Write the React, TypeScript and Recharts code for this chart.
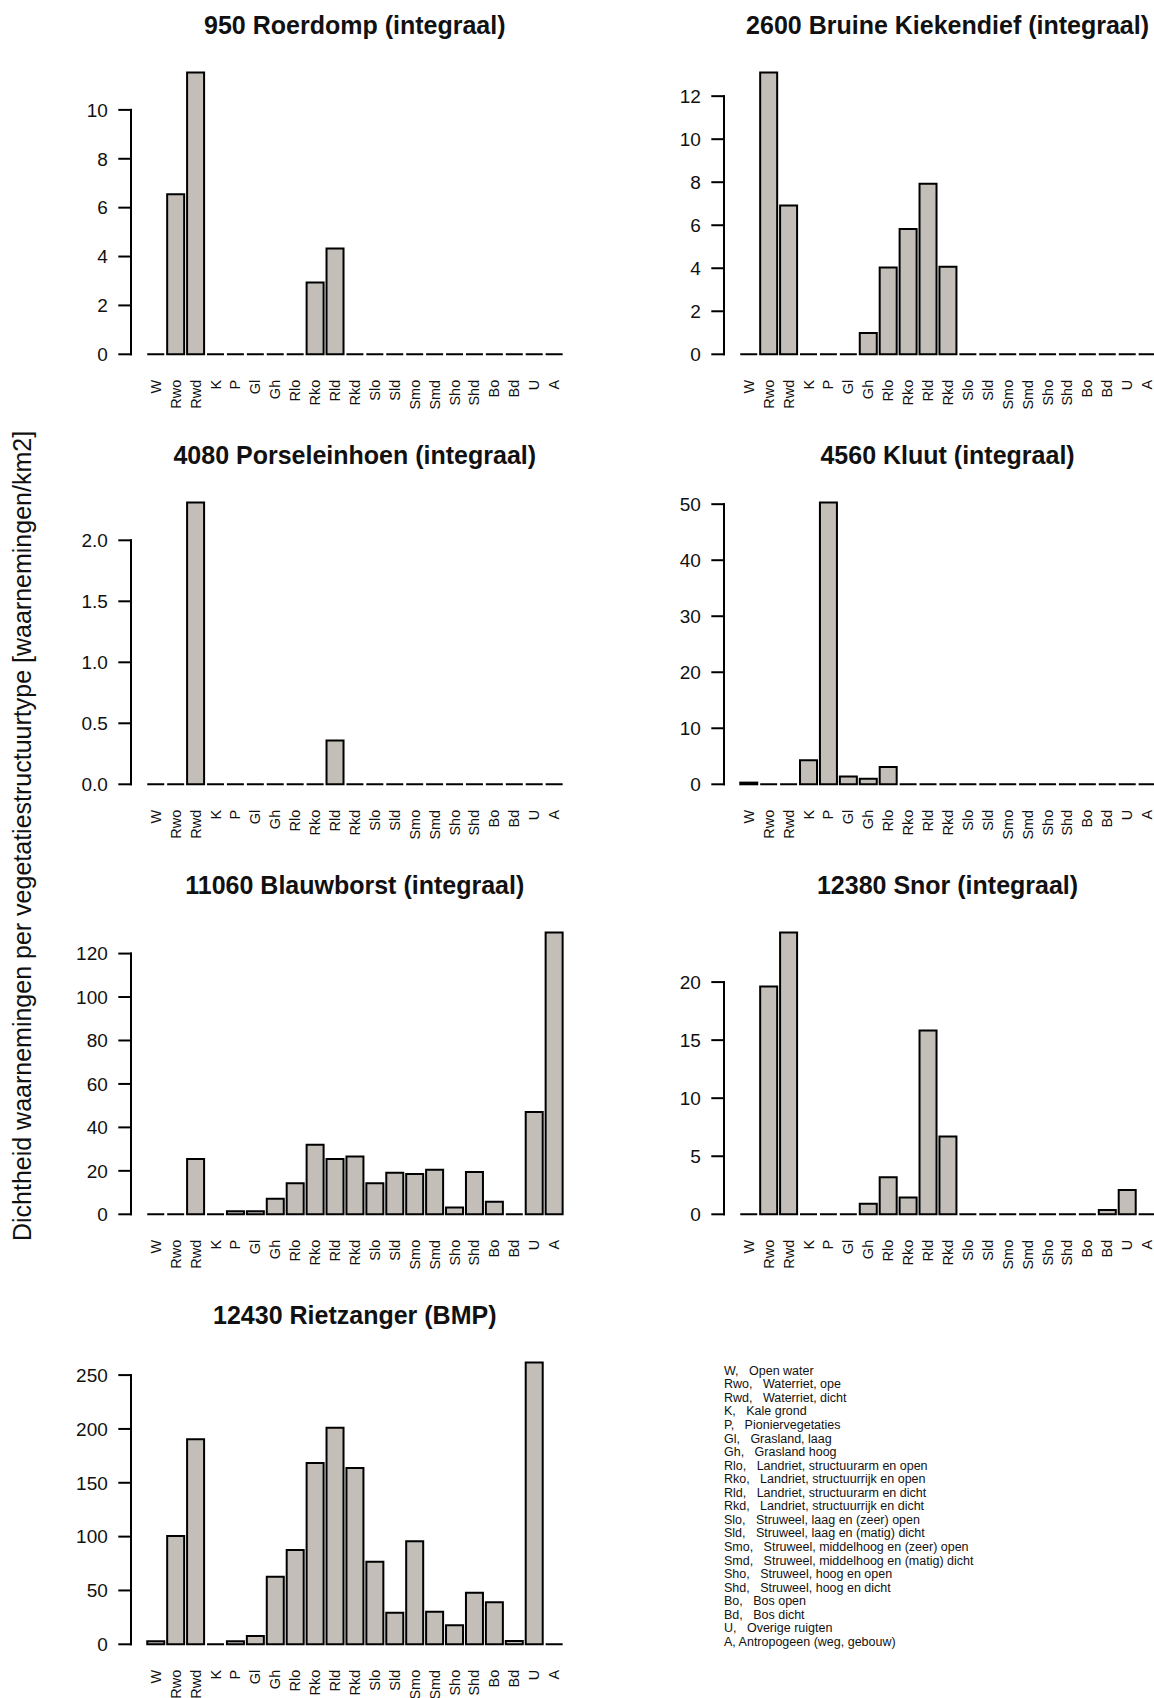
import React from 'react';
import { BarChart, Bar, XAxis, YAxis } from 'recharts';

// vegetation structure types (x categories)
const categories = ['W', 'Rwo', 'Rwd', 'K', 'P', 'Gl', 'Gh', 'Rlo', 'Rko', 'Rld', 'Rkd', 'Slo', 'Sld', 'Smo', 'Smd', 'Sho', 'Shd', 'Bo', 'Bd', 'U', 'A'];

// density per structure type, one array per species
const roerdomp = [0, 6.55, 11.53, 0, 0, 0, 0, 0, 2.94, 4.33, 0, 0, 0, 0, 0, 0, 0, 0, 0, 0, 0];
const bruineKiekendief = [0, 13.1, 6.92, 0, 0, 0, 0.99, 4.04, 5.83, 7.93, 4.07, 0, 0, 0, 0, 0, 0, 0, 0, 0, 0];
const porseleinhoen = [0, 0, 2.31, 0, 0, 0, 0, 0, 0, 0.36, 0, 0, 0, 0, 0, 0, 0, 0, 0, 0, 0];
const kluut = [0.3, 0, 0, 4.3, 50.3, 1.4, 1.0, 3.1, 0, 0, 0, 0, 0, 0, 0, 0, 0, 0, 0, 0, 0];
const blauwborst = [0, 0, 25.5, 0, 1.4, 1.4, 7.2, 14.3, 32, 25.4, 26.6, 14.3, 19.1, 18.6, 20.5, 3.1, 19.5, 5.8, 0, 47.1, 129.7];
const snor = [0, 19.63, 24.27, 0, 0, 0, 0.9, 3.2, 1.45, 15.83, 6.7, 0, 0, 0, 0, 0, 0, 0, 0.37, 2.1, 0];
const rietzanger = [2.8, 100.6, 190.4, 0, 2.8, 7.8, 62.8, 87.6, 168.3, 201.2, 163.7, 76.7, 29.2, 95.7, 30.2, 17.7, 47.9, 39.1, 3.1, 261.7, 0];

// y axis ticks
const ticksRoerdomp = [0, 2, 4, 6, 8, 10];
const ticksKiekendief = [0, 2, 4, 6, 8, 10, 12];
const ticksPorseleinhoen = [0, 0.5, 1, 1.5, 2];
const ticksKluut = [0, 10, 20, 30, 40, 50];
const ticksBlauwborst = [0, 20, 40, 60, 80, 100, 120];
const ticksSnor = [0, 5, 10, 15, 20];
const ticksRietzanger = [0, 50, 100, 150, 200, 250];

const legendLines = [
  'W,   Open water',
  'Rwo,   Waterriet, ope',
  'Rwd,   Waterriet, dicht',
  'K,   Kale grond',
  'P,   Pioniervegetaties',
  'Gl,   Grasland, laag',
  'Gh,   Grasland hoog',
  'Rlo,   Landriet, structuurarm en open',
  'Rko,   Landriet, structuurrijk en open',
  'Rld,   Landriet, structuurarm en dicht',
  'Rkd,   Landriet, structuurrijk en dicht',
  'Slo,   Struweel, laag en (zeer) open',
  'Sld,   Struweel, laag en (matig) dicht',
  'Smo,   Struweel, middelhoog en (zeer) open',
  'Smd,   Struweel, middelhoog en (matig) dicht',
  'Sho,   Struweel, hoog en open',
  'Shd,   Struweel, hoog en dicht',
  'Bo,   Bos open',
  'Bd,   Bos dicht',
  'U,   Overige ruigten',
  'A, Antropogeen (weg, gebouw)',
];

const FONT = '"Liberation Sans", Arial, Helvetica, sans-serif';
const BAR_FILL = '#c3beb7';

const PLOT_LEFT = 145.6;
const PLOT_W = 418.3;
const PLOT_TOP = 72.5;
const PLOT_H = 281.8;
const X_AXIS_H = 70;
const CHART_W = PLOT_LEFT + PLOT_W;
const CHART_H = PLOT_TOP + PLOT_H + X_AXIS_H;
const COL_STEP = 592.8;
const ROW_STEP = 430.1;

const AXIS_GAP = 14.6;
const TICK_LEN = 12.7;

const BarShape = (p: any) => {
  const { x, y, width, height } = p;
  const h = Math.max(height || 0, 0);
  return <path d={`M${x},${y}h${width}v${h}h${-width}Z`} fill={BAR_FILL} stroke="#000" strokeWidth={2} />;
};

const XTick = (props: any) => {
  const { x, y, payload } = props;
  const ty = y + 25.5;
  return (
    <text x={x} y={ty} transform={`rotate(-90 ${x} ${ty})`} textAnchor="end" dy="0.36em" fontSize={14.5} fontFamily={FONT} fill="#111">
      {payload.value}
    </text>
  );
};

function makeYTick(ticks: number[], decimals: number) {
  const top = ticks[ticks.length - 1];
  return (props: any) => {
    const { x, y, payload } = props;
    const ax = x - AXIS_GAP;
    return (
      <g>
        <line x1={ax - TICK_LEN} x2={ax + 1} y1={y} y2={y} stroke="#000" strokeWidth={2} />
        {payload.value === top && <line x1={ax} x2={ax} y1={y - 1} y2={PLOT_TOP + PLOT_H + 1} stroke="#000" strokeWidth={2} />}
        <text x={ax - TICK_LEN - 10.5} y={y} textAnchor="end" dy="0.36em" fontSize={19} fontFamily={FONT} fill="#111">
          {payload.value.toFixed(decimals)}
        </text>
      </g>
    );
  };
}

function Panel({ title, values, ticks, decimals, col, row }: { title: string; values: number[]; ticks: number[]; decimals: number; col: number; row: number }) {
  const data = categories.map((c, i) => ({ cat: c, value: values[i] }));
  const max = Math.max(...values);
  const left = col * COL_STEP;
  const top = row * ROW_STEP;
  return (
    <div style={{ position: 'absolute', left, top, width: CHART_W, height: CHART_H }}>
      <div
        style={{
          position: 'absolute',
          left: PLOT_LEFT + PLOT_W / 2,
          top: 25,
          transform: 'translate(-50%, -50%)',
          whiteSpace: 'nowrap',
          fontFamily: FONT,
          fontWeight: 'bold',
          fontSize: 25,
          lineHeight: 1,
          color: '#111',
        }}
      >
        {title}
      </div>
      <BarChart width={CHART_W} height={CHART_H} data={data} margin={{ top: PLOT_TOP, right: 0, bottom: 0, left: 0 }} barCategoryGap="8.33%">
        <XAxis dataKey="cat" interval={0} axisLine={false} tickLine={false} tickSize={0} tickMargin={0} height={X_AXIS_H} tick={<XTick />} />
        <YAxis
          type="number"
          width={PLOT_LEFT}
          domain={[0, max]}
          ticks={ticks}
          axisLine={false}
          tickLine={false}
          tickSize={0}
          tickMargin={0}
          tick={makeYTick(ticks, decimals)}
        />
        <Bar dataKey="value" shape={BarShape} isAnimationActive={false} />
      </BarChart>
    </div>
  );
}

export default function App() {
  return (
    <div style={{ position: 'absolute', left: 0, top: 0, width: 1154, height: 1698, overflow: 'hidden', background: '#fff' }}>
      <Panel title="950 Roerdomp (integraal)" values={roerdomp} ticks={ticksRoerdomp} decimals={0} col={0} row={0} />
      <Panel title="2600 Bruine Kiekendief (integraal)" values={bruineKiekendief} ticks={ticksKiekendief} decimals={0} col={1} row={0} />
      <Panel title="4080 Porseleinhoen (integraal)" values={porseleinhoen} ticks={ticksPorseleinhoen} decimals={1} col={0} row={1} />
      <Panel title="4560 Kluut (integraal)" values={kluut} ticks={ticksKluut} decimals={0} col={1} row={1} />
      <Panel title="11060 Blauwborst (integraal)" values={blauwborst} ticks={ticksBlauwborst} decimals={0} col={0} row={2} />
      <Panel title="12380 Snor (integraal)" values={snor} ticks={ticksSnor} decimals={0} col={1} row={2} />
      <Panel title="12430 Rietzanger (BMP)" values={rietzanger} ticks={ticksRietzanger} decimals={0} col={0} row={3} />

      <div
        style={{
          position: 'absolute',
          left: 21.6,
          top: 836,
          transform: 'translate(-50%, -50%) rotate(-90deg)',
          whiteSpace: 'nowrap',
          fontFamily: FONT,
          fontSize: 25,
          lineHeight: 1,
          color: '#111',
        }}
      >
        Dichtheid waarnemingen per vegetatiestructuurtype [waarnemingen/km2]
      </div>

      <div style={{ position: 'absolute', left: 724, top: 1371.5 - 6.8, fontFamily: FONT, fontSize: 12.5, lineHeight: '13.57px', color: '#111' }}>
        {legendLines.map((l) => (
          <div key={l} style={{ whiteSpace: 'pre' }}>
            {l}
          </div>
        ))}
      </div>
    </div>
  );
}
